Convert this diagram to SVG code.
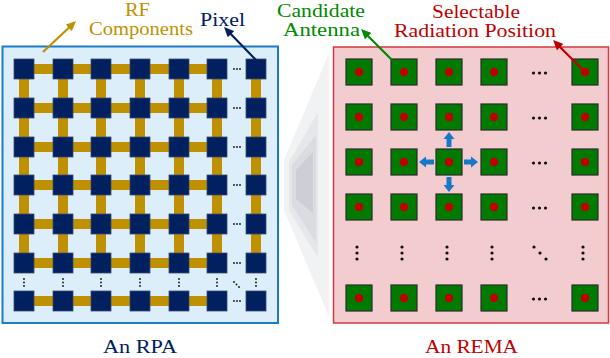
<svg xmlns="http://www.w3.org/2000/svg" xmlns:xlink="http://www.w3.org/1999/xlink" width="610" height="358" viewBox="0 0 610 358">
<style>
.t{font-family:"Liberation Serif","Times New Roman",serif;font-size:18px;text-anchor:middle}
.pix{fill:#002060;stroke:#3b4d70;stroke-width:0.8}
.bar{fill:#BF9000}
.ant{fill:#007A00;stroke:#2a2a2a;stroke-width:1.2}
.dot{fill:#C00000}
.bk{fill:#111}
.blue{fill:#1878C8}
</style>
<defs>
<rect id="px" width="20" height="20" class="pix"/>
<g id="an"><rect width="26" height="26" class="ant"/><circle cx="13" cy="13" r="4.2" class="dot"/></g>
<g id="hd3"><circle cx="-3" cy="0" r="0.9"/><circle cx="0" cy="0" r="0.9"/><circle cx="3" cy="0" r="0.9"/></g>
<g id="vd3"><circle cx="0" cy="-3.5" r="0.9"/><circle cx="0" cy="0" r="0.9"/><circle cx="0" cy="3.5" r="0.9"/></g>
<g id="HD"><circle cx="-6" cy="0" r="1.6"/><circle cx="0" cy="0" r="1.6"/><circle cx="6" cy="0" r="1.6"/></g>
<g id="VD"><circle cx="0" cy="-6" r="1.6"/><circle cx="0" cy="0" r="1.6"/><circle cx="0" cy="6" r="1.6"/></g>
<marker id="mg" markerUnits="userSpaceOnUse" markerWidth="11" markerHeight="9" refX="2" refY="4.5" orient="auto"><path d="M0,0 L10,4.5 L0,9 z" fill="#BF9000"/></marker>
<marker id="mn" markerUnits="userSpaceOnUse" markerWidth="11" markerHeight="9" refX="2" refY="4.5" orient="auto"><path d="M0,0 L10,4.5 L0,9 z" fill="#002060"/></marker>
<marker id="mgr" markerUnits="userSpaceOnUse" markerWidth="11" markerHeight="9" refX="2" refY="4.5" orient="auto"><path d="M0,0 L10,4.5 L0,9 z" fill="#008A00"/></marker>
<marker id="mr" markerUnits="userSpaceOnUse" markerWidth="11" markerHeight="9" refX="2" refY="4.5" orient="auto"><path d="M0,0 L10,4.5 L0,9 z" fill="#C00000"/></marker>
</defs>

<!-- funnel -->
<g id="funnel">
<polygon points="329,53 329,317 284,210 284,160" fill="#eeeff1" opacity="0.8"/>
<polygon points="318,112 318,258 289,210 289,162" fill="#e3e4e7" opacity="0.8"/>
<polygon points="316,135 316,243 292,205 292,165" fill="#d8dadf" opacity="0.8"/>
<polygon points="313,152 313,213 296,199 296,170" fill="#c9ccd3" opacity="0.8"/>
</g>

<!-- panels -->
<g id="rpa-panel"><rect x="2.5" y="46.5" width="275.5" height="276.5" fill="#DDEEFB" stroke="#1B7BC6" stroke-width="2"/></g>
<g id="rema-panel"><rect x="333.5" y="47" width="275" height="276" fill="#F2CCCE" stroke="#D23A3E" stroke-width="1.5"/></g>

<!-- RF components -->
<g id="rf-components" class="bar">
<rect x="24" y="64" width="193" height="10"/>
<rect x="24" y="103" width="193" height="10"/>
<rect x="24" y="142" width="193" height="10"/>
<rect x="24" y="180" width="193" height="10"/>
<rect x="24" y="219" width="193" height="10"/>
<rect x="24" y="258" width="193" height="10"/>
<rect x="24" y="296" width="193" height="10"/>
<rect x="19" y="69" width="10" height="194"/>
<rect x="58" y="69" width="10" height="194"/>
<rect x="96" y="69" width="10" height="194"/>
<rect x="135" y="69" width="10" height="194"/>
<rect x="174" y="69" width="10" height="194"/>
<rect x="212" y="69" width="10" height="194"/>
<rect x="251" y="69" width="10" height="194"/>
</g>

<!-- pixels -->
<g id="pixels">
<g id="px-r0"><use href="#px" x="14" y="59"/><use href="#px" x="53" y="59"/><use href="#px" x="91" y="59"/><use href="#px" x="130" y="59"/><use href="#px" x="169" y="59"/><use href="#px" x="207" y="59"/><use href="#px" x="246" y="59"/></g>
<g id="px-r1"><use href="#px" x="14" y="98"/><use href="#px" x="53" y="98"/><use href="#px" x="91" y="98"/><use href="#px" x="130" y="98"/><use href="#px" x="169" y="98"/><use href="#px" x="207" y="98"/><use href="#px" x="246" y="98"/></g>
<g id="px-r2"><use href="#px" x="14" y="137"/><use href="#px" x="53" y="137"/><use href="#px" x="91" y="137"/><use href="#px" x="130" y="137"/><use href="#px" x="169" y="137"/><use href="#px" x="207" y="137"/><use href="#px" x="246" y="137"/></g>
<g id="px-r3"><use href="#px" x="14" y="175"/><use href="#px" x="53" y="175"/><use href="#px" x="91" y="175"/><use href="#px" x="130" y="175"/><use href="#px" x="169" y="175"/><use href="#px" x="207" y="175"/><use href="#px" x="246" y="175"/></g>
<g id="px-r4"><use href="#px" x="14" y="214"/><use href="#px" x="53" y="214"/><use href="#px" x="91" y="214"/><use href="#px" x="130" y="214"/><use href="#px" x="169" y="214"/><use href="#px" x="207" y="214"/><use href="#px" x="246" y="214"/></g>
<g id="px-r5"><use href="#px" x="14" y="253"/><use href="#px" x="53" y="253"/><use href="#px" x="91" y="253"/><use href="#px" x="130" y="253"/><use href="#px" x="169" y="253"/><use href="#px" x="207" y="253"/><use href="#px" x="246" y="253"/></g>
<g id="px-r6"><use href="#px" x="14" y="291"/><use href="#px" x="53" y="291"/><use href="#px" x="91" y="291"/><use href="#px" x="130" y="291"/><use href="#px" x="169" y="291"/><use href="#px" x="207" y="291"/><use href="#px" x="246" y="291"/></g>
</g>
<g id="rpa-dots" class="bk">
<use href="#hd3" x="237" y="69"/><use href="#hd3" x="237" y="108"/><use href="#hd3" x="237" y="147"/><use href="#hd3" x="237" y="185"/><use href="#hd3" x="237" y="224"/><use href="#hd3" x="237" y="263"/><use href="#hd3" x="237" y="301"/>
<use href="#vd3" x="24" y="282.5"/><use href="#vd3" x="63" y="282.5"/><use href="#vd3" x="101" y="282.5"/><use href="#vd3" x="140" y="282.5"/><use href="#vd3" x="179" y="282.5"/><use href="#vd3" x="217" y="282.5"/><use href="#vd3" x="256" y="282.5"/>
<circle cx="234" cy="282" r="0.9"/><circle cx="236.5" cy="284.5" r="0.9"/><circle cx="239" cy="287" r="0.9"/>
</g>

<!-- antennas -->
<g id="antennas">
<g id="an-r0"><use href="#an" x="346" y="59"/><use href="#an" x="391" y="59"/><use href="#an" x="436" y="59"/><use href="#an" x="481" y="59"/><use href="#an" x="572" y="59"/></g>
<g id="an-r1"><use href="#an" x="346" y="104"/><use href="#an" x="391" y="104"/><use href="#an" x="436" y="104"/><use href="#an" x="481" y="104"/><use href="#an" x="572" y="104"/></g>
<g id="an-r2"><use href="#an" x="346" y="149"/><use href="#an" x="391" y="149"/><use href="#an" x="436" y="149"/><use href="#an" x="481" y="149"/><use href="#an" x="572" y="149"/></g>
<g id="an-r3"><use href="#an" x="346" y="194"/><use href="#an" x="391" y="194"/><use href="#an" x="436" y="194"/><use href="#an" x="481" y="194"/><use href="#an" x="572" y="194"/></g>
<g id="an-r4"><use href="#an" x="346" y="285"/><use href="#an" x="391" y="285"/><use href="#an" x="436" y="285"/><use href="#an" x="481" y="285"/><use href="#an" x="572" y="285"/></g>
</g>
<g id="rema-dots" class="bk">
<use href="#HD" x="539.5" y="73"/><use href="#HD" x="539.5" y="118"/><use href="#HD" x="539.5" y="163"/><use href="#HD" x="539.5" y="208"/><use href="#HD" x="539.5" y="299"/>
<use href="#VD" x="357" y="253"/><use href="#VD" x="402" y="253"/><use href="#VD" x="447" y="253"/><use href="#VD" x="492" y="253"/><use href="#VD" x="583" y="253"/>
<circle cx="534" cy="247" r="1.6"/><circle cx="540" cy="253" r="1.6"/><circle cx="546" cy="259" r="1.6"/>
</g>

<!-- movement arrows -->
<g id="move-arrows" class="blue">
<polygon points="446.5,147 446.5,139 443.5,139 449,132 454.5,139 451.5,139 451.5,147"/>
<polygon points="446.5,177 446.5,185 443.5,185 449,192 454.5,185 451.5,185 451.5,177"/>
<polygon points="434,159.5 426,159.5 426,156.5 419,162 426,167.5 426,164.5 434,164.5"/>
<polygon points="464,159.5 471,159.5 471,156.5 478,162 471,167.5 471,164.5 464,164.5"/>
</g>

<!-- connectors -->
<g id="connectors" fill="none" stroke-width="2.2">
<line x1="43" y1="52" x2="70.2" y2="26.5" stroke="#BF9000" marker-end="url(#mg)"/>
<line x1="256" y1="60" x2="229.6" y2="32.7" stroke="#002060" marker-end="url(#mn)"/>
<line x1="392" y1="60" x2="366.7" y2="34.7" stroke="#008A00" marker-end="url(#mgr)"/>
<line x1="585" y1="72" x2="558.7" y2="45.7" stroke="#C00000" marker-end="url(#mr)"/>
</g>

<!-- labels -->
<g id="labels" class="t">
<text x="137.5" y="16" fill="#BF9000" textLength="25" lengthAdjust="spacingAndGlyphs">RF</text>
<text x="141" y="35" fill="#BF9000" textLength="104" lengthAdjust="spacingAndGlyphs">Components</text>
<text x="222.5" y="26" fill="#002060" textLength="45" lengthAdjust="spacingAndGlyphs">Pixel</text>
<text x="321" y="17" fill="#008A00" textLength="88" lengthAdjust="spacingAndGlyphs">Candidate</text>
<text x="321.5" y="36" fill="#008A00" textLength="77" lengthAdjust="spacingAndGlyphs">Antenna</text>
<text x="476" y="18" fill="#C00000" textLength="88" lengthAdjust="spacingAndGlyphs">Selectable</text>
<text x="475" y="36.5" fill="#C00000" textLength="162" lengthAdjust="spacingAndGlyphs">Radiation Position</text>
<text x="140" y="353" fill="#002060" textLength="74" lengthAdjust="spacingAndGlyphs">An RPA</text>
<text x="471.5" y="353" fill="#C00000" textLength="93" lengthAdjust="spacingAndGlyphs">An REMA</text>
</g>
</svg>
